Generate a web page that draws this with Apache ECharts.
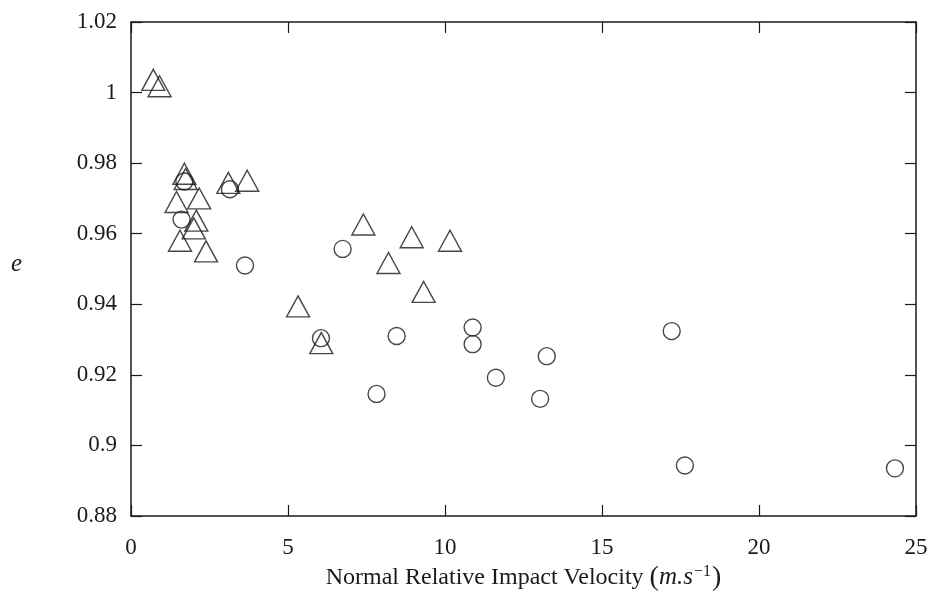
<!DOCTYPE html>
<html>
<head>
<meta charset="utf-8">
<script src="https://cdn.jsdelivr.net/npm/echarts@6/dist/echarts.min.js"></script>
<style>
html,body{margin:0;padding:0;background:#fff;}
#c{width:930px;height:592px;}
</style>
</head>
<body>
<div id="c"></div>
<script>
// Data
var xTicks = [0, 5, 10, 15, 20, 25];
var yTicks = [0.88, 0.9, 0.92, 0.94, 0.96, 0.98, 1, 1.02];

var triangleX = [0.71, 0.91, 1.70, 1.74, 1.45, 2.17, 2.08, 2.00, 1.56, 2.39, 3.10, 3.70, 5.32, 6.06, 7.40, 8.20, 8.94, 9.32, 10.16];
var triangleY = [1.0036, 1.0018, 0.977, 0.9755, 0.969, 0.970, 0.9637, 0.9615, 0.958, 0.955, 0.9744, 0.975, 0.9394, 0.929, 0.9626, 0.9517, 0.959, 0.9435, 0.958];

var circleX = [1.70, 1.61, 3.15, 3.63, 6.05, 6.74, 7.82, 8.46, 10.88, 10.88, 11.62, 13.03, 13.24, 17.22, 17.64, 24.33];
var circleY = [0.9748, 0.964, 0.9726, 0.951, 0.9304, 0.9557, 0.9146, 0.931, 0.9334, 0.9287, 0.9192, 0.9132, 0.9253, 0.9324, 0.8943, 0.8935];

function pairs(xs, ys) { return xs.map(function (x, i) { return [x, ys[i]]; }); }

var FONT = 'Liberation Serif';
var INK = '#1a1a1a';

var chart = echarts.init(document.getElementById('c'), null, {renderer: 'canvas'});

function xAxisDef(pos, showLabel) {
  return {
    type: 'value', position: pos,
    min: xTicks[0], max: xTicks[xTicks.length - 1], interval: 5,
    axisLine: {show: true, onZero: false, lineStyle: {color: INK, width: 1.5}},
    axisTick: {show: true, inside: true, length: 11, lineStyle: {color: INK, width: 1.2}},
    axisLabel: {show: showLabel, color: INK, fontFamily: FONT, fontSize: 23, margin: 20},
    splitLine: {show: false}
  };
}
function yAxisDef(pos, showLabel) {
  return {
    type: 'value', position: pos,
    min: yTicks[0], max: yTicks[yTicks.length - 1], interval: 0.02,
    axisLine: {show: true, onZero: false, lineStyle: {color: INK, width: 1.5}},
    axisTick: {show: true, inside: true, length: 11, lineStyle: {color: INK, width: 1.2}},
    axisLabel: {show: showLabel, color: INK, fontFamily: FONT, fontSize: 23, margin: 14},
    splitLine: {show: false}
  };
}

var xa = xAxisDef('bottom', true);
xa.name = '{n|Normal Relative Impact Velocity }{p|(}{i|m.s}{s|−1}{p|)}';
xa.nameLocation = 'middle';
xa.nameGap = 47;
xa.nameTextStyle = {
  rich: {
    n: {fontFamily: FONT, fontSize: 24, color: INK},
    p: {fontFamily: FONT, fontSize: 28, color: INK},
    i: {fontFamily: FONT, fontSize: 25, fontStyle: 'italic', color: INK},
    s: {fontFamily: FONT, fontSize: 16, color: INK, verticalAlign: 'top', padding: [0, 1, 12, 1]}
  }
};

chart.setOption({
  backgroundColor: '#fff',
  animation: false,
  grid: {left: 131, right: 14, top: 22, bottom: 76, containLabel: false, outerBoundsMode: 'none'},
  xAxis: [xa, xAxisDef('top', false)],
  yAxis: [yAxisDef('left', true), yAxisDef('right', false)],
  graphic: [{
    type: 'text', left: 11, top: 252,
    style: {text: 'e', fontFamily: FONT, fontSize: 25, fontStyle: 'italic', fill: INK}
  }],
  series: [{
    type: 'scatter', name: 'triangles',
    data: pairs(triangleX, triangleY),
    symbol: 'triangle', symbolSize: [23, 21],
    itemStyle: {color: 'rgba(0,0,0,0)', borderColor: INK, borderWidth: 1.4}
  }, {
    type: 'scatter', name: 'circles',
    data: pairs(circleX, circleY),
    symbol: 'circle', symbolSize: 17,
    itemStyle: {color: 'rgba(0,0,0,0)', borderColor: INK, borderWidth: 1.4}
  }]
});
</script>
</body>
</html>
